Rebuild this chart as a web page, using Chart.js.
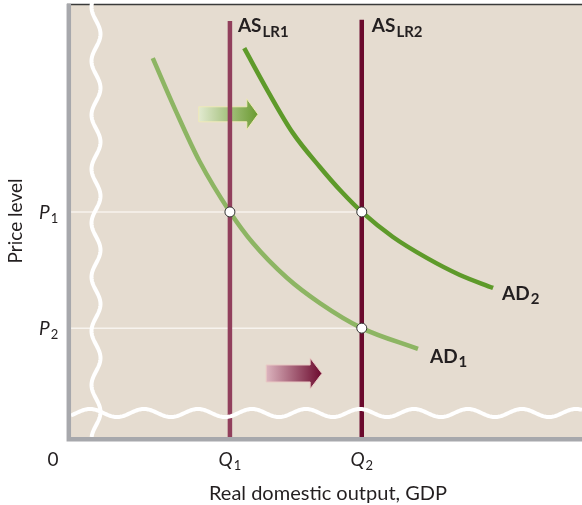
<!DOCTYPE html>
<html>
<head>
<meta charset="utf-8">
<script src="https://cdn.jsdelivr.net/npm/chart.js@4.4.1/dist/chart.umd.min.js"></script>
<style>
  body { margin: 0; background: #fff; }
</style>
</head>
<body>
<canvas id="chartAsShift" width="582" height="505"></canvas>
<script>
// values, axes run 0..100
const outputLevels = [31.1, 56.9];
const outputLabels = ['Q', 'Q'];
const outputSubs = ['1', '2'];
const priceLevels = [52.1, 25.2];
const priceLabels = ['P', 'P'];
const priceSubs = ['1', '2'];

const ad1X = [16.0, 20.5, 25.2, 31.1, 35.6, 42.3, 48.7, 56.9, 67.9];
const ad1Y = [87.7, 75.5, 63.7, 52.1, 44.9, 36.8, 31.0, 25.2, 20.4];
const ad2X = [33.9, 38.6, 43.4, 48.7, 53.0, 56.9, 63.0, 69.7, 76.1, 82.6];
const ad2Y = [90.0, 79.9, 70.4, 62.5, 56.7, 52.1, 46.3, 41.4, 37.5, 34.5];
const asTop = [96.3, 96.6];

const eqX = [outputLevels[0], outputLevels[1], outputLevels[1]];
const eqY = [priceLevels[0], priceLevels[0], priceLevels[1]];

const pts = (xs, ys) => xs.map((x, i) => ({ x: x, y: ys[i] }));

const beige = '#e5dcd0';
const ink = '#231f20';
const font = 'Lato, "DejaVu Sans", sans-serif';

function drawArrow(ctx, x0, x1, tip, yc, bh, hh, c0, c1, edge) {
  const g = ctx.createLinearGradient(x0, 0, tip, 0);
  g.addColorStop(0, c0);
  g.addColorStop(1, c1);
  ctx.beginPath();
  ctx.moveTo(x0, yc - bh);
  ctx.lineTo(x1, yc - bh);
  ctx.lineTo(x1, yc - hh);
  ctx.lineTo(tip, yc);
  ctx.lineTo(x1, yc + hh);
  ctx.lineTo(x1, yc + bh);
  ctx.lineTo(x0, yc + bh);
  ctx.closePath();
  ctx.fillStyle = g;
  ctx.fill();
  ctx.strokeStyle = edge;
  ctx.lineWidth = 1;
  ctx.stroke();
}

// main text with a lowered small part after it
function drawSub(ctx, main, sub, x, y, mainFont, subFont, dy, align) {
  ctx.font = mainFont;
  const w1 = ctx.measureText(main).width;
  ctx.font = subFont;
  const w2 = ctx.measureText(sub).width;
  let left = x;
  if (align === 'center') left = x - (w1 + w2 + 1) / 2;
  ctx.textAlign = 'left';
  ctx.textBaseline = 'alphabetic';
  ctx.fillStyle = ink;
  ctx.font = mainFont;
  ctx.fillText(main, left, y);
  ctx.font = subFont;
  ctx.fillText(sub, left + w1 + 1, y + dy);
}

const decor = {
  id: 'decor',
  beforeDraw(chart) {
    const { ctx, chartArea: a } = chart;
    ctx.save();
    ctx.fillStyle = beige;
    ctx.fillRect(a.left, a.top, a.right - a.left, a.bottom - a.top);
    ctx.restore();
  },
  beforeDatasetsDraw(chart) {
    const ctx = chart.ctx;
    const xs = chart.scales.x, ys = chart.scales.y;
    ctx.save();
    drawArrow(ctx, xs.getPixelForValue(25.0), xs.getPixelForValue(34.4), xs.getPixelForValue(36.6),
      ys.getPixelForValue(74.7), 7.5, 15.5, '#e2ead0', '#6a9a30', '#efe9b8');
    drawArrow(ctx, xs.getPixelForValue(38.2), xs.getPixelForValue(46.8), xs.getPixelForValue(49.1),
      ys.getPixelForValue(14.7), 8.5, 15.5, '#dcb4be', '#6c0a2e', '#e9c9c4');
    ctx.restore();
  },
  afterDatasetsDraw(chart) {
    const { ctx, chartArea: a } = chart;
    ctx.save();
    // top border
    ctx.strokeStyle = '#3a3a3a';
    ctx.lineWidth = 1.5;
    ctx.beginPath();
    ctx.moveTo(a.left - 4, a.top - 0.5);
    ctx.lineTo(a.right, a.top - 0.5);
    ctx.stroke();
    // break marks
    ctx.strokeStyle = '#ffffff';
    ctx.lineWidth = 4;
    ctx.lineCap = 'butt';
    ctx.beginPath();
    for (let x = a.left; x <= a.right; x += 1) {
      const y = 413 - 4 * Math.cos(2 * Math.PI * (x - 90) / 54);
      if (x === a.left) ctx.moveTo(x, y); else ctx.lineTo(x, y);
    }
    ctx.stroke();
    ctx.beginPath();
    for (let y = 0; y <= a.bottom; y += 1) {
      const x = 96 + 4.5 * Math.cos(2 * Math.PI * (y - 412) / 54);
      if (y === 0) ctx.moveTo(x, y); else ctx.lineTo(x, y);
    }
    ctx.stroke();
    // axes
    ctx.strokeStyle = '#a7a8ac';
    ctx.lineWidth = 4.5;
    ctx.beginPath();
    ctx.moveTo(a.left - 2.2, a.top - 1.2);
    ctx.lineTo(a.left - 2.2, a.bottom + 2.2);
    ctx.lineTo(a.right, a.bottom + 2.2);
    ctx.stroke();
    ctx.restore();
  },
  afterDraw(chart) {
    const ctx = chart.ctx;
    const xs = chart.scales.x, ys = chart.scales.y;
    ctx.save();
    const big = 'bold 19px ' + font;
    const small = 'bold 15px ' + font;
    // curve labels
    drawSub(ctx, 'AS', 'LR1', xs.getPixelForValue(outputLevels[0]) + 8, 32, big, small, 5);
    drawSub(ctx, 'AS', 'LR2', xs.getPixelForValue(outputLevels[1]) + 10, 32, big, small, 5);
    drawSub(ctx, 'AD', '2', xs.getPixelForValue(ad2X[ad2X.length - 1]) + 9, ys.getPixelForValue(ad2Y[ad2Y.length - 1]) + 12, big, small, 4);
    drawSub(ctx, 'AD', '1', xs.getPixelForValue(ad1X[ad1X.length - 1]) + 12, ys.getPixelForValue(ad1Y[ad1Y.length - 1]) + 14, big, small, 4);
    // tick labels
    const it = 'italic 19px ' + font;
    const sm = '13px ' + font;
    const base = ys.getPixelForValue(0);
    ctx.font = '19px ' + font;
    ctx.fillStyle = ink;
    ctx.textAlign = 'center';
    ctx.fillText('0', xs.getPixelForValue(0) - 18, base + 29);
    outputLevels.forEach((v, i) => {
      drawSub(ctx, outputLabels[i], outputSubs[i], xs.getPixelForValue(v), base + 29, it, sm, 4, 'center');
    });
    priceLevels.forEach((v, i) => {
      drawSub(ctx, priceLabels[i], priceSubs[i], 39, ys.getPixelForValue(v) + 7, it, sm, 4);
    });
    // axis titles
    ctx.font = '20px ' + font;
    ctx.fillStyle = ink;
    ctx.textAlign = 'center';
    ctx.textBaseline = 'alphabetic';
    ctx.fillText('Real domestic output, GDP', 328, 500);
    ctx.font = '19px ' + font;
    ctx.translate(22, 221);
    ctx.rotate(-Math.PI / 2);
    ctx.fillText('Price level', 0, 0);
    ctx.restore();
  }
};

const canvas = document.getElementById('chartAsShift');
const chartAsShift = new Chart(canvas, {
  type: 'scatter',
  plugins: [decor],
  data: {
    datasets: [
      {
        label: 'equilibria',
        data: pts(eqX, eqY),
        pointRadius: 5,
        pointBackgroundColor: '#ffffff',
        pointBorderColor: '#333333',
        pointBorderWidth: 1,
        showLine: false
      },
      {
        label: 'AS LR1',
        data: [{ x: outputLevels[0], y: 0 }, { x: outputLevels[0], y: asTop[0] }],
        showLine: true,
        borderColor: '#913f5c',
        borderWidth: 4.5,
        pointRadius: 0
      },
      {
        label: 'AS LR2',
        data: [{ x: outputLevels[1], y: 0 }, { x: outputLevels[1], y: asTop[1] }],
        showLine: true,
        borderColor: '#6a0a2d',
        borderWidth: 4.5,
        pointRadius: 0
      },
      {
        label: 'AD2',
        data: pts(ad2X, ad2Y),
        showLine: true,
        cubicInterpolationMode: 'monotone',
        borderColor: '#5e9a2a',
        borderWidth: 4.5,
        pointRadius: 0
      },
      {
        label: 'AD1',
        data: pts(ad1X, ad1Y),
        showLine: true,
        cubicInterpolationMode: 'monotone',
        borderColor: '#8db563',
        borderWidth: 4.5,
        pointRadius: 0
      },
      {
        label: 'P1',
        data: [{ x: 0, y: priceLevels[0] }, { x: outputLevels[1], y: priceLevels[0] }],
        showLine: true,
        borderColor: '#f7f3ee',
        borderWidth: 1.5,
        pointRadius: 0
      },
      {
        label: 'P2',
        data: [{ x: 0, y: priceLevels[1] }, { x: outputLevels[1], y: priceLevels[1] }],
        showLine: true,
        borderColor: '#f7f3ee',
        borderWidth: 1.5,
        pointRadius: 0
      }
    ]
  },
  options: {
    responsive: false,
    animation: false,
    events: [],
    layout: { autoPadding: false, padding: { left: 71, right: 0, top: 5, bottom: 68 } },
    scales: {
      x: { type: 'linear', min: 0, max: 100, display: false },
      y: { type: 'linear', min: 0, max: 100, display: false }
    },
    plugins: {
      legend: { display: false },
      tooltip: { enabled: false }
    }
  }
});
</script>
</body>
</html>
